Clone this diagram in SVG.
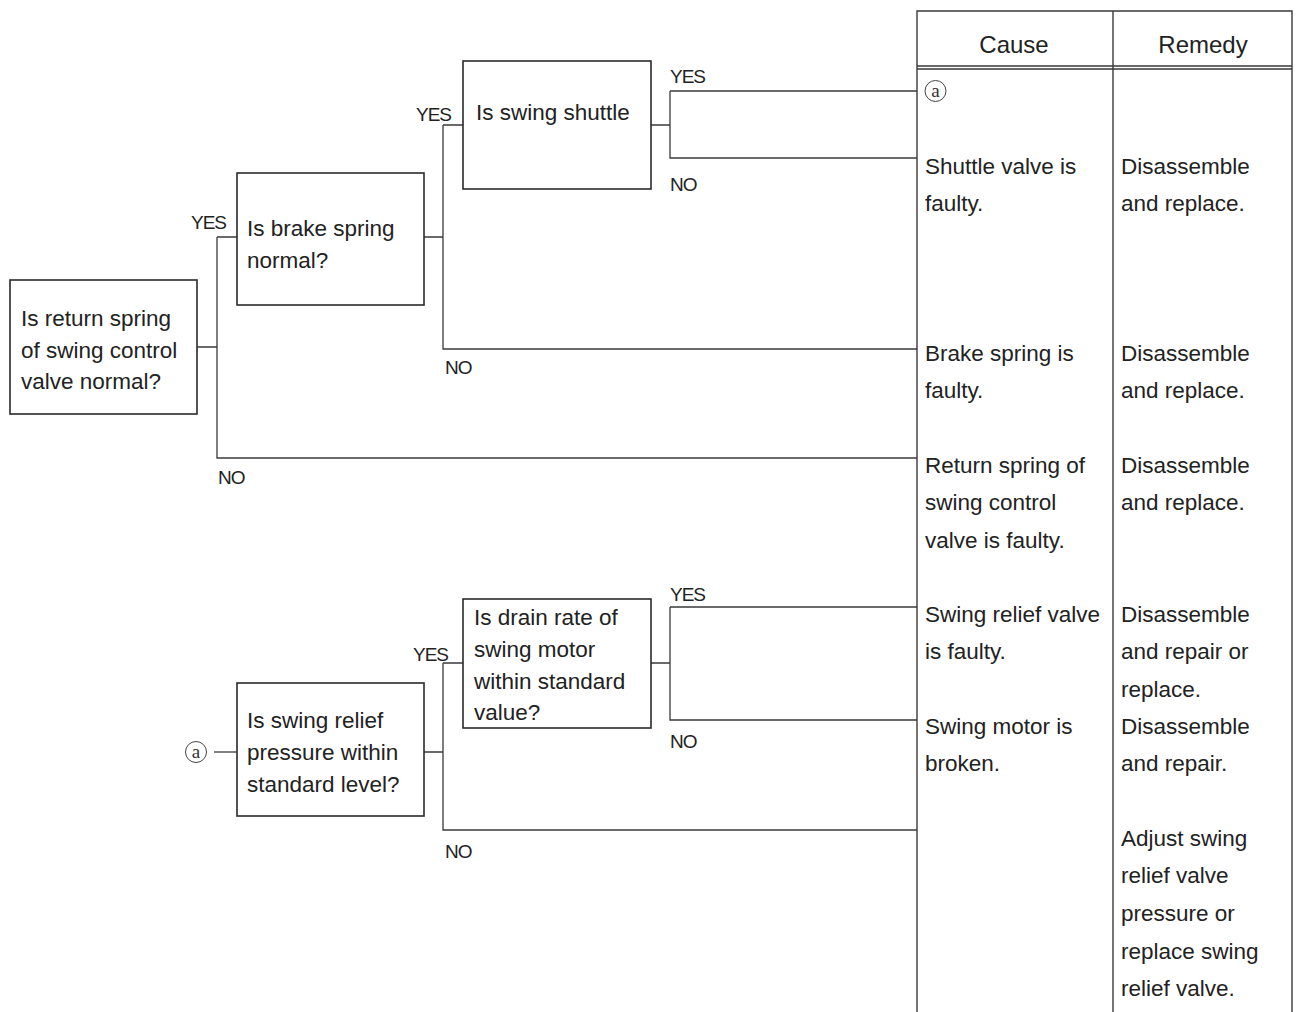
<svg xmlns="http://www.w3.org/2000/svg" width="1300" height="1012" viewBox="0 0 1300 1012">
<style>
.bg{fill:#fff}
.box{fill:#fff;stroke:#2a2a2a;stroke-width:1.6}
.ln{fill:none;stroke:#3a3a3a;stroke-width:1.3}
.tb{fill:none;stroke:#3a3a3a;stroke-width:1.4}
.t{font-family:"Liberation Sans",Arial,sans-serif;font-size:22.5px;fill:#222}
.h{font-family:"Liberation Sans",Arial,sans-serif;font-size:24px;fill:#222;text-anchor:middle}
.l{font-family:"Liberation Sans",Arial,sans-serif;font-size:19px;fill:#222;letter-spacing:-1px}
.c{fill:none;stroke:#444;stroke-width:1}
.ca{font-family:"Liberation Serif","Times New Roman",serif;font-size:19px;fill:#333;text-anchor:middle}
</style>
<rect class="bg" x="0" y="0" width="1300" height="1012"/>

<g id="table">
  <path class="tb" d="M917,1012 V11 H1292 V1012 M1113,11 V1012 M917,66 H1292 M917,69 H1292"/>
  <text class="h" x="1014" y="53">Cause</text>
  <text class="h" x="1203" y="53">Remedy</text>
  <circle class="c" cx="935.5" cy="91" r="10.5"/>
  <text class="ca" x="935.5" y="96.5">a</text>
  <text class="t" x="925" y="174">Shuttle valve is</text>
  <text class="t" x="925" y="211">faulty.</text>
  <text class="t" x="1121" y="174">Disassemble</text>
  <text class="t" x="1121" y="211">and replace.</text>
  <text class="t" x="925" y="361">Brake spring is</text>
  <text class="t" x="925" y="398">faulty.</text>
  <text class="t" x="1121" y="361">Disassemble</text>
  <text class="t" x="1121" y="398">and replace.</text>
  <text class="t" x="925" y="473">Return spring of</text>
  <text class="t" x="925" y="510">swing control</text>
  <text class="t" x="925" y="548">valve is faulty.</text>
  <text class="t" x="1121" y="473">Disassemble</text>
  <text class="t" x="1121" y="510">and replace.</text>
  <text class="t" x="925" y="622">Swing relief valve</text>
  <text class="t" x="925" y="659">is faulty.</text>
  <text class="t" x="1121" y="622">Disassemble</text>
  <text class="t" x="1121" y="659">and repair or</text>
  <text class="t" x="1121" y="697">replace.</text>
  <text class="t" x="925" y="734">Swing motor is</text>
  <text class="t" x="925" y="771">broken.</text>
  <text class="t" x="1121" y="734">Disassemble</text>
  <text class="t" x="1121" y="771">and repair.</text>
  <text class="t" x="1121" y="846">Adjust swing</text>
  <text class="t" x="1121" y="883">relief valve</text>
  <text class="t" x="1121" y="921">pressure or</text>
  <text class="t" x="1121" y="959">replace swing</text>
  <text class="t" x="1121" y="996">relief valve.</text>
</g>

<g id="connectors">
  <path class="ln" d="M197,347 H217 M217,237 V458 H917 M217,237 H237"/>
  <path class="ln" d="M424,237 H443 M443,125 V349 H917 M443,125 H463"/>
  <path class="ln" d="M651,125 H670 M670,91 V158 H917 M670,91 H917"/>
  <path class="ln" d="M214,752 H237"/>
  <path class="ln" d="M424,752 H443 M443,663 V830 H917 M443,663 H463"/>
  <path class="ln" d="M651,663 H670 M670,607 V720 H917 M670,607 H917"/>
  <text class="l" x="191" y="229">YES</text>
  <text class="l" x="416" y="121">YES</text>
  <text class="l" x="670" y="83">YES</text>
  <text class="l" x="670" y="191">NO</text>
  <text class="l" x="445" y="374">NO</text>
  <text class="l" x="218" y="484">NO</text>
  <text class="l" x="670" y="601">YES</text>
  <text class="l" x="413" y="661">YES</text>
  <text class="l" x="670" y="748">NO</text>
  <text class="l" x="445" y="858">NO</text>
</g>

<g id="node-return-spring">
  <rect class="box" x="10" y="280" width="187" height="134"/>
  <text class="t" x="21" y="326">Is return spring</text>
  <text class="t" x="21" y="358">of swing control</text>
  <text class="t" x="21" y="389">valve normal?</text>
</g>

<g id="node-brake-spring">
  <rect class="box" x="237" y="173" width="187" height="132"/>
  <text class="t" x="247" y="236">Is brake spring</text>
  <text class="t" x="247" y="268">normal?</text>
</g>

<g id="node-swing-shuttle">
  <rect class="box" x="463" y="61" width="188" height="128"/>
  <text class="t" x="476" y="120">Is swing shuttle</text>
</g>

<g id="node-a-start">
  <circle class="c" cx="196" cy="752" r="10.5"/>
  <text class="ca" x="196" y="757.5">a</text>
</g>

<g id="node-relief-pressure">
  <rect class="box" x="237" y="683" width="187" height="133"/>
  <text class="t" x="247" y="728">Is swing relief</text>
  <text class="t" x="247" y="760">pressure within</text>
  <text class="t" x="247" y="792">standard level?</text>
</g>

<g id="node-drain-rate">
  <rect class="box" x="463" y="599" width="188" height="129"/>
  <text class="t" x="474" y="625">Is drain rate of</text>
  <text class="t" x="474" y="657">swing motor</text>
  <text class="t" x="474" y="689">within standard</text>
  <text class="t" x="474" y="720">value?</text>
</g>
</svg>
